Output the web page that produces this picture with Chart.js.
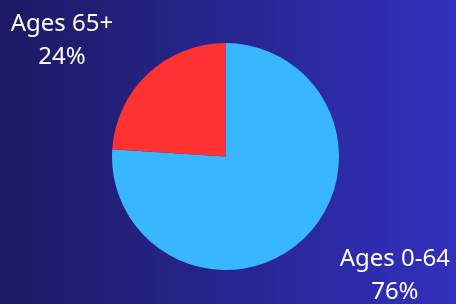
<!DOCTYPE html>
<html>
<head>
<meta charset="utf-8">
<script src="https://cdn.jsdelivr.net/npm/chart.js@4"></script>
<style>
    html, body { margin: 0; padding: 0; }
    body {
        width: 456px;
        height: 304px;
        background: linear-gradient(to right, #1c1a62, #3230bd);
        overflow: hidden;
    }
    #wrap { width: 456px; height: 304px; }
</style>
</head>
<body>
<div id="wrap"><canvas id="chart-age"></canvas></div>
<script>
const labels = ["Ages 0-64", "Ages 65+"]
const values = [76, 24]
const colors = ["#38b6ff", "#ff3131"]

// draws "label / pct%" outside each slice
const outerLabels = {
    id: "outerLabels",
    afterDatasetsDraw(chart, args, opts) {
        const ctx = chart.ctx
        const meta = chart.getDatasetMeta(0)
        ctx.save()
        ctx.fillStyle = "#ffffff"
        ctx.font = "24px 'Noto Sans'"
        ctx.textAlign = "center"
        ctx.textBaseline = "alphabetic"
        meta.data.forEach((arc, i) => {
            const p = arc.getProps(["x", "y", "startAngle", "endAngle", "outerRadius"], true)
            const mid = (p.startAngle + p.endAngle) / 2 + opts.shift[i]
            const d = p.outerRadius * opts.dist[i]
            const cx = p.x + Math.cos(mid) * d
            const cy = p.y + Math.sin(mid) * d
            ctx.fillText(labels[i], cx, cy - 16)
            ctx.fillText(values[i] + "%", cx, cy + 17)
        })
        ctx.restore()
    }
}

new Chart("chart-age", {
    type: "pie",
    data: {
        labels: labels,
        datasets: [{
            data: values,
            backgroundColor: colors,
            borderWidth: 0
        }]
    },
    options: {
        responsive: true,
        maintainAspectRatio: false,
        animation: false,
        layout: {
            padding: { top: 43, bottom: 34, left: 0, right: 5 }
        },
        plugins: {
            legend: { display: false },
            tooltip: { enabled: false },
            outerLabels: {
                shift: [-0.18, -0.225],
                dist: [1.856, 1.736]
            }
        }
    },
    plugins: [outerLabels]
})
</script>
</body>
</html>
